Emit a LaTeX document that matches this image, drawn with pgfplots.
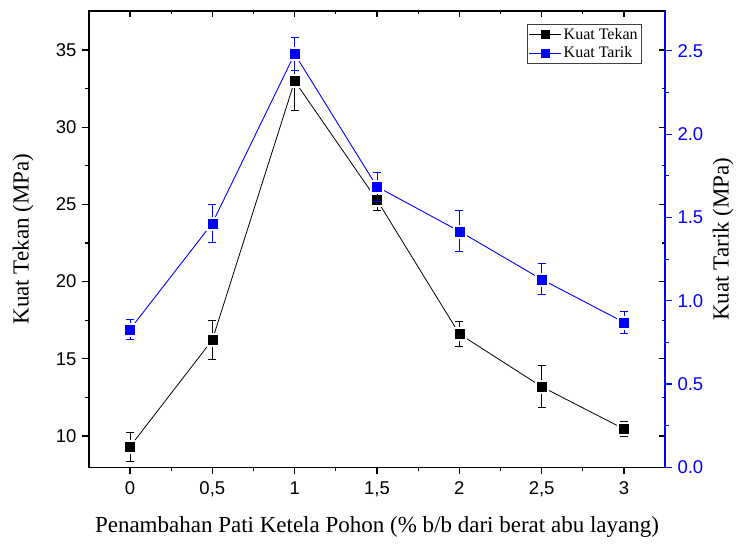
\documentclass[border=0pt]{standalone}
\usepackage{fontspec}
\setmainfont{Liberation Serif}
\setsansfont{Liberation Sans}
\usepackage{pgfplots}
\usepackage{pgfplotstable}
\pgfplotsset{compat=1.18}
\definecolor{tarikblue}{RGB}{0,0,255}

% Kuat tekan (MPa) with standard deviation
\pgfplotstableread{
x    tekan  etekan
0    9.31   0.93
0.5  16.22  1.27
1    32.99  1.88
1.5  25.28  0.65
2    16.61  0.81
2.5  13.19  1.35
3    10.45  0.50
}\tekan

% Kuat tarik (MPa) with standard deviation
\pgfplotstableread{
x    tarik  etarik
0    0.828  0.058
0.5  1.465  0.116
1    2.481  0.100
1.5  1.684  0.087
2    1.417  0.124
2.5  1.128  0.093
3    0.870  0.065
}\tarik

\pgfplotsset{
  base/.style={
    scale only axis,
    width=576pt, height=456.3pt,
    xmin=-0.249, xmax=3.249,
    xtick={0,0.5,1,1.5,2,2.5,3},
    minor x tick num=1,
    major tick length=7pt, minor tick length=4pt,
    axis line style={line width=1.1pt},
    every tick/.style={line width=1.1pt, black},
    /pgf/number format/assume math mode=true,
    ticklabel style={font=\sffamily\fontsize{18.5}{22}\selectfont},
    label style={font=\fontsize{23}{27}\selectfont},
  },
  % white gap around each symbol, so connecting lines stop short of it
  halo/.style={only marks, mark=square*, mark size=6.5pt, white, forget plot},
  errs/.style={error bars/.cd, y dir=both, y explicit,
    error bar style={line width=0.8pt},
    error mark options={rotate=90, mark size=4pt, line width=0.8pt},
    /pgfplots/.cd},
}

\begin{document}
\begin{tikzpicture}
% inward ticks on top and right edge
\begin{axis}[base,
  ymin=7.97, ymax=37.53,
  ytick={10,15,20,25,30,35}, minor y tick num=1,
  tick align=inside,
  xtick pos=right, ytick pos=right,
  major tick length=6pt, minor tick length=3.5pt,
  xticklabels={}, yticklabels={},
]
\end{axis}

% Kuat Tekan, left axis
\begin{axis}[base,
  ymin=7.97, ymax=37.53,
  ytick={10,15,20,25,30,35}, minor y tick num=1,
  tick align=outside,
  xtick pos=left, ytick pos=left,
  xticklabel style={/pgf/number format/use comma, yshift=-4pt},
  yticklabel style={xshift=-2pt},
  xlabel={Penambahan Pati Ketela Pohon (\% b/b dari berat abu layang)},
  ylabel={Kuat Tekan (MPa)},
  xlabel style={at={([yshift=-60pt]axis description cs:0.5,0)}, anchor=center},
  ylabel style={at={([xshift=-66pt]axis description cs:0,0.5)}, anchor=center},
]
\addplot[black, line width=0.8pt, no marks] table[x=x, y=tekan] {\tekan};
\addplot[halo] table[x=x, y=tekan] {\tekan};
\addplot[black, only marks, mark=square*, mark size=4.5pt, errs]
  table[x=x, y=tekan, y error=etekan] {\tekan};
\end{axis}

% Kuat Tarik, right axis
\begin{axis}[base,
  axis x line=none, axis y line*=right,
  ymin=0, ymax=2.739,
  ytick={0,0.5,1,1.5,2,2.5}, minor y tick num=1,
  tick align=outside,
  y axis line style={tarikblue, line width=2pt},
  every tick/.style={line width=1.1pt, tarikblue},
  yticklabel style={tarikblue, xshift=2pt, /pgf/number format/.cd, fixed, fixed zerofill, precision=1},
  ylabel={Kuat Tarik (MPa)},
  ylabel style={at={([xshift=58pt]axis description cs:1,0.5)}, anchor=center},
  legend style={at={(0.960,0.9715)}, anchor=north east,
    font=\fontsize{16}{19}\selectfont, draw=black!75, line width=0.6pt,
    inner xsep=2pt, inner ysep=2pt, row sep=2pt},
  legend cell align=left,
  legend image code/.code={
    \draw[#1, mark repeat=2, mark phase=2] plot coordinates {(0pt,0pt) (16pt,0pt) (32pt,0pt)};},
]
\addlegendimage{black, line width=0.8pt, mark=square*, mark size=4pt}
\addlegendentry{Kuat Tekan}
\addlegendimage{tarikblue, line width=0.9pt, mark=square*, mark size=4pt}
\addlegendentry{Kuat Tarik}
\addplot[tarikblue, line width=0.9pt, no marks, forget plot] table[x=x, y=tarik] {\tarik};
\addplot[halo] table[x=x, y=tarik] {\tarik};
\addplot[tarikblue, only marks, mark=square*, mark size=4.5pt, forget plot, errs]
  table[x=x, y=tarik, y error=etarik] {\tarik};
\end{axis}

\pgfresetboundingbox
\path (-89pt,-77.7pt) rectangle (650pt,467.3pt);
\end{tikzpicture}
\end{document}
